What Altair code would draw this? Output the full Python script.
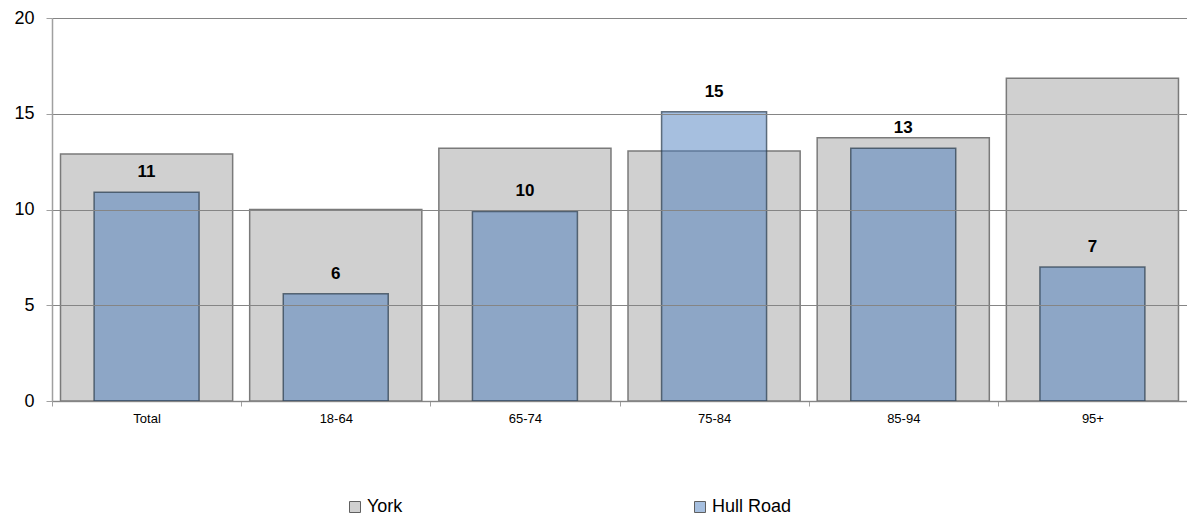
import altair as alt
import pandas as pd

categories = ["Total", "18-64", "65-74", "75-84", "85-94", "95+"]
york = [12.9, 10.0, 13.2, 13.05, 13.75, 16.85]
hull_road = [10.9, 5.6, 9.9, 15.1, 13.2, 7.0]
series = ["York", "Hull Road"]
y_ticks = [0, 5, 10, 15, 20]

rows = []
for c, v in zip(categories, york):
    rows.append({"category": c, "series": "York", "value": v})
for c, v in zip(categories, hull_road):
    rows.append({"category": c, "series": "Hull Road", "value": v, "label": round(v)})
df = pd.DataFrame(rows)

FONT = "Liberation Sans"

x_enc = alt.X(
    "category:N",
    sort=categories,
    scale=alt.Scale(paddingInner=0, paddingOuter=0),
    axis=alt.Axis(
        title=None, labelAngle=0, labelFontSize=13, labelColor="#000000",
        labelFont=FONT, tickBand="extent", tickSize=5, tickColor="#a0a0a0",
        domainColor="#a0a0a0", domainWidth=1.5, labelPadding=6, grid=False,
    ),
)
y_enc = alt.Y(
    "value:Q",
    scale=alt.Scale(domain=[0, 20], nice=False),
    axis=alt.Axis(
        title=None, values=y_ticks, labelFontSize=18, labelFont=FONT,
        labelColor="#000000", tickSize=6, tickColor="#a0a0a0",
        domainColor="#a0a0a0", domainWidth=1.5, labelPadding=12,
        gridColor="#858585", gridWidth=1, zindex=1,
    ),
)
color_enc = alt.Color(
    "series:N",
    scale=alt.Scale(domain=series, range=["#d0d0d0", "#a6bfdf"]),
    legend=alt.Legend(
        title=None, orient="none", direction="horizontal",
        legendX=294, legendY=480, symbolType="square", symbolSize=121,
        symbolStrokeColor="#606060", symbolStrokeWidth=1,
        labelFontSize=18, labelFont=FONT, labelColor="#000000",
        columnPadding=288, labelOffset=3,
    ),
)

base = alt.Chart(df)

york_bars = base.transform_filter(alt.datum.series == "York").mark_bar(
    width=alt.RelativeBandSize(0.91), stroke="#7a7a7a", strokeWidth=1.5,
).encode(x=x_enc, y=y_enc, color=color_enc)

hull_bars = base.transform_filter(alt.datum.series == "Hull Road").mark_bar(
    width=alt.RelativeBandSize(0.555), fill="#467abc", stroke="#2a3a4a",
    strokeWidth=1.5, fillOpacity=0.48, strokeOpacity=0.7,
).encode(x=x_enc, y=y_enc)

labels = base.transform_filter(alt.datum.series == "Hull Road").mark_text(
    font=FONT, fontSize=17, fontWeight="bold", color="#000000", dy=-11,
    baseline="bottom",
).encode(x=x_enc, y=y_enc, text="label:Q")

chart = alt.layer(york_bars, hull_bars, labels).properties(
    width=1135, height=383,
    padding={"left": 44, "top": 10, "right": 0, "bottom": 118},
    autosize=alt.AutoSizeParams(type="none"),
).configure_view(stroke=None)

chart.save("out.html", embed_options={"renderer": "svg", "actions": False})
